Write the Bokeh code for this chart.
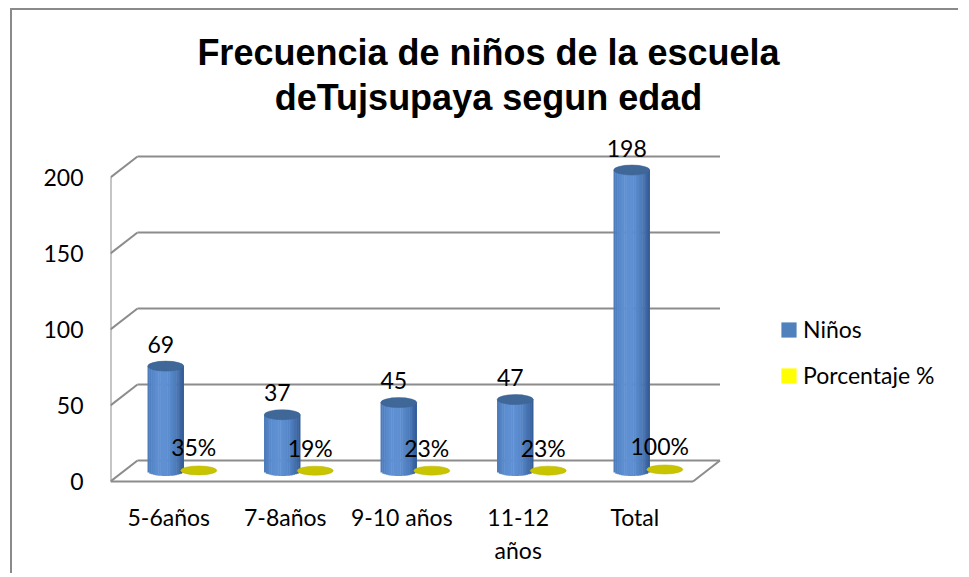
import numpy as np
from bokeh.plotting import figure
from bokeh.models import FixedTicker, Legend, LegendItem
from bokeh.core.properties import value
from bokeh.embed import file_html
from bokeh.resources import INLINE

# ---------------- data ----------------
categories = ["5-6años", "7-8años", "9-10 años", "11-12\naños", "Total"]
ninos = [69, 37, 45, 47, 198]
porcentaje = [0.35, 0.19, 0.23, 0.23, 1.00]
porcentaje_labels = ["35%", "19%", "23%", "23%", "100%"]
y_ticks = [0, 50, 100, 150, 200]
title_lines = ["Frecuencia  de niños  de la escuela", "deTujsupaya  segun edad"]
series_names = ["Niños", "Porcentaje %"]

# ---------------- geometry ----------------
W, H = 948, 565
ML, MR, MT, MB = 98, 2, 0, 90
PX = 116.5          # px per category
PY = 1.52           # px per value unit
frame_w = W - ML - MR
frame_h = H - MT - MB
y0_px_from_bottom = 4   # value 0 (front) sits 4px above frame bottom
x_end = frame_w / PX
y_start = -y0_px_from_bottom / PY
y_end = (frame_h - y0_px_from_bottom) / PY

DX = 27 / PX        # depth offset (back wall) in x units
DY = 21 / PY        # depth offset in y units
N = len(categories)

GRID = "#8c8c8c"
FONT = value("Lato")

p = figure(width=W, height=H, output_backend="svg", toolbar_location=None,
           x_range=(0, x_end), y_range=(y_start, y_end),
           min_border_left=ML, min_border_right=MR, min_border_top=MT, min_border_bottom=MB)
p.styles = {"border-left": "2px solid #8a8a8a", "border-top": "2px solid #8a8a8a",
            "margin-left": "10px", "margin-top": "8px"}
p.outline_line_color = None
p.xgrid.visible = False
p.ygrid.visible = False
p.background_fill_color = "white"
p.border_fill_color = "white"

# ---------------- 3D walls / gridlines ----------------
p.segment(x0=[DX] * len(y_ticks), y0=[t + DY for t in y_ticks],
          x1=[N + DX] * len(y_ticks), y1=[t + DY for t in y_ticks],
          line_color=GRID, line_width=2)
p.segment(x0=[0] * len(y_ticks), y0=y_ticks,
          x1=[DX] * len(y_ticks), y1=[t + DY for t in y_ticks],
          line_color=GRID, line_width=2)
p.segment(x0=[0], y0=[0], x1=[0], y1=[max(y_ticks)], line_color=GRID, line_width=2)
p.segment(x0=[0, N], y0=[0, 0], x1=[N, N + DX], y1=[0, DY], line_color=GRID, line_width=2)

# ---------------- cylinders ----------------
mid = [i + 0.5 + DX / 2 for i in range(N)]
base = DY / 2
off = 16.5 / PX
cw = 36 / PX
eh = 10 / PY
bx = [m - off for m in mid]
yx = [m + off for m in mid]

dark = np.array([50, 90, 148])
light = np.array([95, 145, 212])
nstrip = 20
edges = np.linspace(-1, 1, nstrip + 1)
L, R, B, T, C = [], [], [], [], []
for xc, v in zip(bx, ninos):
    for k in range(nstrip):
        u = 0.5 * (edges[k] + edges[k + 1])
        t = max(0.0, 1 - ((u + 0.2) / 1.2) ** 2)
        col = dark + (light - dark) * t
        C.append("#%02x%02x%02x" % tuple(int(c) for c in col))
        L.append(xc + edges[k] * cw / 2 - 0.002)
        R.append(xc + edges[k + 1] * cw / 2 + 0.002)
        B.append(base - (eh / 2) * np.sqrt(max(0.0, 1 - u * u)))
        T.append(base + v)
p.quad(left=L, right=R, bottom=B, top=T, fill_color=C, line_color=None)
p.ellipse(x=bx, y=[base + v for v in ninos], width=cw, height=eh,
          fill_color="#3f6899", line_color="#3a6192", line_width=0.5)

p.ellipse(x=yx, y=[base + v for v in porcentaje], width=cw, height=9 / PY,
          fill_color="#c8c400", line_color="#b8b400", line_width=0.5)

# ---------------- data labels ----------------
p.text(x=bx, y=[base + v for v in ninos], text=[str(v) for v in ninos],
       text_align="center", text_baseline="alphabetic", x_offset=-5, y_offset=-22,
       text_font=FONT, text_font_size="23px", text_color="black")
p.text(x=yx, y=[base + v for v in porcentaje], text=porcentaje_labels,
       text_align="center", text_baseline="alphabetic", x_offset=-5, y_offset=-23,
       text_font=FONT, text_font_size="23px", text_color="black")

# ---------------- title ----------------
tx = (488 - 110) / PX
p.text(x=[tx, tx], y=[(481 - 63) / PY, (481 - 108) / PY], text=title_lines,
       text_align="center", text_baseline="alphabetic", x_offset=[10, 5], y_offset=-11,
       text_font=value("Liberation Sans"), text_font_style="bold",
       text_font_size="36px", text_color="black")

# ---------------- axes ----------------
p.yaxis.ticker = FixedTicker(ticks=y_ticks)
p.yaxis.axis_line_color = None
p.yaxis.major_tick_line_color = None
p.yaxis.minor_tick_line_color = None
p.yaxis.major_label_standoff = 21
p.yaxis.major_label_text_font = "Lato"
p.yaxis.major_label_text_font_size = "23px"
p.yaxis.major_label_text_color = "black"

p.xaxis.ticker = FixedTicker(ticks=[i + 0.5 for i in range(N)])
p.xaxis.major_label_overrides = {i + 0.5: c for i, c in enumerate(categories)}
p.xaxis.axis_line_color = None
p.xaxis.major_tick_line_color = None
p.xaxis.minor_tick_line_color = None
p.xaxis.major_label_standoff = 11
p.xaxis.major_label_text_font = "Lato"
p.xaxis.major_label_text_font_size = "23px"
p.xaxis.major_label_text_color = "black"

# ---------------- legend ----------------
# swatch renderers: one box each, parked outside the visible frame
r1 = p.quad(left=[-3], right=[-2], bottom=[-50], top=[-40], fill_color="#4f81bd", line_color=None)
r2 = p.quad(left=[-3], right=[-2], bottom=[-50], top=[-40], fill_color="#ffff00", line_color=None)
legend = Legend(items=[LegendItem(label=series_names[0], renderers=[r1]),
                       LegendItem(label=series_names[1], renderers=[r2])],
                location=(669, 96), padding=0, margin=0, spacing=18,
                glyph_width=19, glyph_height=19, label_height=22, label_standoff=5,
                border_line_color=None, background_fill_alpha=0,
                label_text_font="Lato", label_text_font_size="23px", label_text_color="black")
p.add_layout(legend, "center")

open("out.html", "w").write(file_html(p, INLINE))
